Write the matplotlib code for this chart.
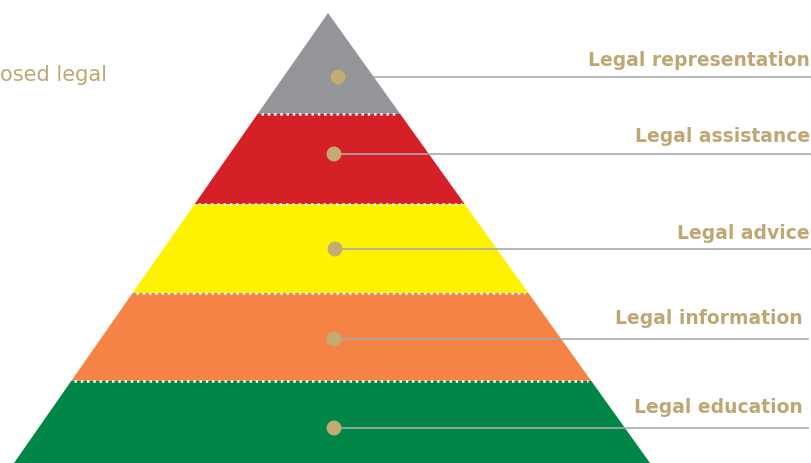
import matplotlib
matplotlib.use("Agg")
import matplotlib.pyplot as plt
from matplotlib.patches import Polygon

# Pyramid levels, top to bottom
levels = ["Legal representation", "Legal assistance", "Legal advice",
          "Legal information", "Legal education"]
colors = ["#939598", "#D52027", "#FFF200", "#F58345", "#008646"]
# band bottom edges (pixel rows), top band starts at apex
band_bottoms = [115, 205, 294, 382, 464]
apex = (328, 14)
base_left, base_right = 14, 650
# label / leader line positions
label_y = [60, 137, 234, 319, 408]
label_right = [810, 810, 810, 803, 803]
line_y = [78, 155, 250, 340, 429]
line_x0 = [374, 334, 335, 334, 334]
line_x1 = [811, 811, 811, 808, 808]
dot_x = [338, 334, 335, 334, 334]
left_text = "osed legal"

W, H = 811, 464
fig = plt.figure(figsize=(W / 100, H / 100), dpi=100)
ax = fig.add_axes([0, 0, 1, 1])
ax.set_xlim(0, W)
ax.set_ylim(H, 0)
ax.axis("off")

def edge_x(y):
    t = (y - apex[1]) / (H - apex[1])
    return apex[0] + t * (base_left - apex[0]), apex[0] + t * (base_right - apex[0])

top = apex[1]
for i, (bot, c) in enumerate(zip(band_bottoms, colors)):
    lt, rt = edge_x(top)
    lb, rb = edge_x(bot)
    ax.add_patch(Polygon([(lt, top), (rt, top), (rb, bot), (lb, bot)],
                         closed=True, facecolor=c, edgecolor="none", zorder=1))
    top = bot

for b in band_bottoms[:-1]:
    l, r = edge_x(b)
    ax.plot([l + 3, r - 3], [b, b], color="white", lw=1.8,
            linestyle=(0, (1, 1.5)), zorder=2)

gold = "#BDA874"
for i in range(len(levels)):
    ax.plot([line_x0[i], line_x1[i]], [line_y[i], line_y[i]],
            color="#A7A9AC", lw=1.2, zorder=3)
    ax.scatter([dot_x[i]], [line_y[i]], s=115, color="#C2AC72",
               edgecolors="none", zorder=4)
    ax.text(label_right[i], label_y[i], levels[i], ha="right", va="center",
            fontsize=13.5, color=gold, fontfamily="DejaVu Sans",
            fontweight="bold", zorder=5)

ax.text(0, 75, left_text, ha="left", va="center", fontsize=15,
        color=gold, fontfamily="DejaVu Sans", zorder=5)

fig.savefig("out.png", dpi=100)
